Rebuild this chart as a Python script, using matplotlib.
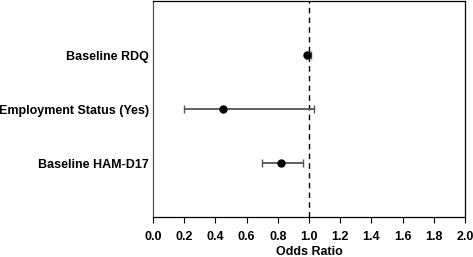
import matplotlib
matplotlib.use('Agg')
import matplotlib.pyplot as plt

# data
labels = ['Baseline RDQ', 'Employment Status (Yes)', 'Baseline HAM-D17']
odds   = [0.99, 0.45, 0.82]
lower  = [0.98, 0.20, 0.70]
upper  = [1.01, 1.03, 0.96]
ypos   = [3, 2, 1]
xticks = [0.0, 0.2, 0.4, 0.6, 0.8, 1.0, 1.2, 1.4, 1.6, 1.8, 2.0]

plt.rcParams['font.family'] = ['Liberation Sans', 'DejaVu Sans']

fig = plt.figure(figsize=(4.73, 2.57), dpi=100)
ax = fig.add_axes([0.3235, 0.1556, 0.6595, 0.8405])

err = [[o - l for o, l in zip(odds, lower)], [u - o for o, u in zip(odds, upper)]]
ax.errorbar(odds, ypos, xerr=err, fmt='o', color='black', markersize=5,
            ecolor='#555555', elinewidth=1.3, capsize=3, capthick=1.0, zorder=3)
ax.axvline(1.0, color='black', linestyle=(0, (4, 3)), linewidth=1.0, zorder=2)

ax.set_xlim(0, 2.0)
ax.set_ylim(0, 4)
ax.set_xticks(xticks)
ax.set_xticklabels([f'{t:.1f}' for t in xticks], fontweight='bold', fontsize=9)
ax.set_yticks(ypos)
ax.set_yticklabels(labels, fontweight='bold', fontsize=9)
ax.tick_params(axis='y', length=0, pad=3)
ax.tick_params(axis='x', direction='out', length=4, width=0.8, pad=6)
ax.set_xlabel('Odds Ratio', fontweight='bold', fontsize=9, labelpad=2)
for s in ax.spines.values():
    s.set_linewidth(0.9)
ax.spines['left'].set_color('#555555')

fig.savefig('out.png', dpi=100)
